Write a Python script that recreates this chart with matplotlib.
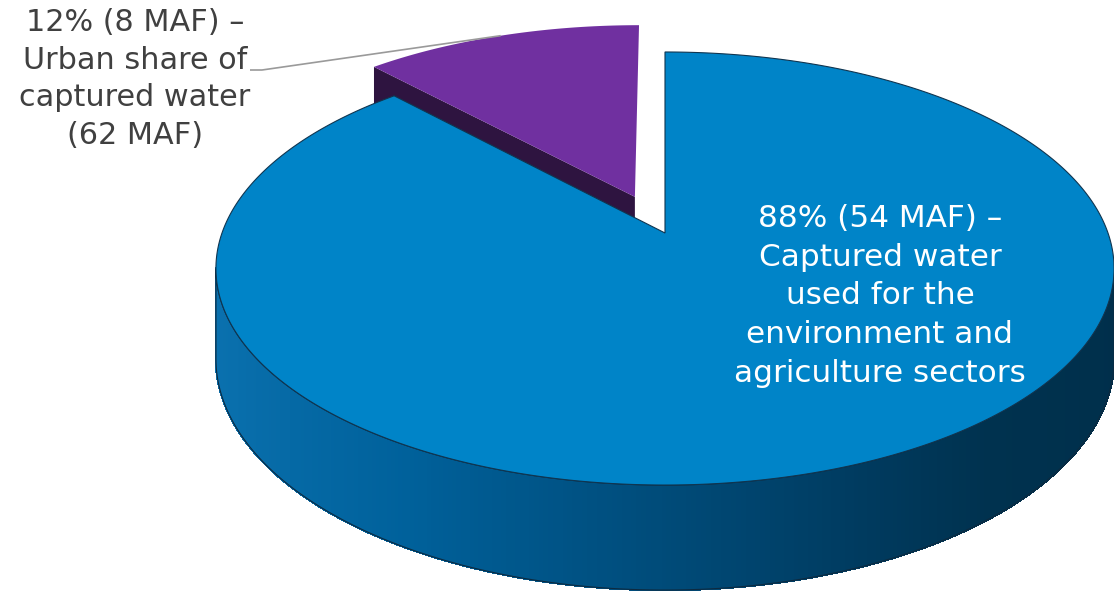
import numpy as np
import matplotlib
matplotlib.use("Agg")
import matplotlib.pyplot as plt
from matplotlib.patches import Polygon
from matplotlib.collections import PolyCollection
from matplotlib.colors import LinearSegmentedColormap

# data
shares = [12, 88]            # percent
maf = [8, 54]                # million acre-feet
total_maf = 62
names = ["Urban share of\ncaptured water", "Captured water\nused for the\nenvironment and\nagriculture sectors"]
top_colors = ["#7030a0", "#0084c8"]
face_colors = ["#2e1440", "#00304d"]

# pie geometry in pixels (perspective-ish projection of a flat cylinder)
cx, cy = 665, 233
A, B, k, H = 443, 210.7, 0.164, 87.8
explode = [0.19, 0.0]


def proj(u, v, down=0.0):
    s = 1.0 / (1.0 + k * v)
    return cx + A * u * s, cy - B * v * s + H * down * s


fig = plt.figure(figsize=(11.14, 5.91), dpi=100)
ax = fig.add_axes([0, 0, 1, 1])
ax.set_xlim(0, 1114)
ax.set_ylim(591, 0)
ax.axis("off")

# slice angles: start at 12 o'clock, go counter-clockwise
start = np.deg2rad(90)
angles = []
a0 = start
for s in shares:
    a1 = a0 + 2 * np.pi * s / 100.0
    angles.append((a0, a1))
    a0 = a1

# ---- purple (exploded) slice
p0, p1 = angles[0]
mid = (p0 + p1) / 2
du, dv = explode[0] * np.cos(mid), explode[0] * np.sin(mid)
# radial face at the trailing edge
r = np.linspace(0, 1, 30)
fu, fv = du + r * np.cos(p1), dv + r * np.sin(p1)
top_edge = [proj(u, v) for u, v in zip(fu, fv)]
bot_edge = [proj(u, v, 1) for u, v in zip(fu, fv)]
ax.add_patch(Polygon(top_edge + bot_edge[::-1], closed=True,
                     facecolor=face_colors[0], edgecolor="none"))
th = np.linspace(p0, p1, 80)
pts = [proj(du, dv)] + [proj(du + np.cos(t), dv + np.sin(t)) for t in th]
ax.add_patch(Polygon(pts, closed=True, facecolor=top_colors[0], edgecolor="none"))

# ---- blue slice side wall
cmap = LinearSegmentedColormap.from_list(
    "side", [(0.0, "#0b72b0"), (0.25, "#00619b"), (0.5, "#004b79"),
             (0.7, "#003a5e"), (0.82, "#00324f"), (1.0, "#002f4b")])
t_lo = np.pi + np.arcsin(k)
t_hi = 2 * np.pi - np.arcsin(k)
ts = np.linspace(t_lo, t_hi, 300)
quads, cols = [], []
for ta, tb in zip(ts[:-1], ts[1:]):
    ua, va, ub, vb = np.cos(ta), np.sin(ta), np.cos(tb), np.sin(tb)
    quads.append([proj(ua, va), proj(ub, vb), proj(ub, vb, 1), proj(ua, va, 1)])
    cols.append(cmap((np.cos((ta + tb) / 2) + 1) / 2))
ax.add_collection(PolyCollection(quads, facecolors=cols, edgecolors=cols,
                                 linewidths=1.0, antialiaseds=False))
outline = [proj(np.cos(t), np.sin(t)) for t in ts] + [proj(np.cos(t), np.sin(t), 1) for t in ts[::-1]]
ax.add_patch(Polygon(outline, closed=True, facecolor="none", edgecolor="#0d2a40", linewidth=0.8))

# ---- blue slice top
b0, b1 = angles[1]
th = np.linspace(b0, b1, 400)
pts = [proj(0, 0)] + [proj(np.cos(t), np.sin(t)) for t in th]
ax.add_patch(Polygon(pts, closed=True, facecolor=top_colors[1],
                     edgecolor="#103550", linewidth=0.8))

# ---- labels
font = ["DejaVu Sans"]
lab0 = f"{shares[0]}% ({maf[0]} MAF) \u2013\n{names[0]}\n({total_maf} MAF)"
ax.text(135, 79, lab0, ha="center", va="center", fontsize=21.8, color="#404040",
        family=font, linespacing=1.37)
lab1 = f"{shares[1]}% ({maf[1]} MAF) \u2013\n{names[1]}"
ax.text(880, 296, lab1, ha="center", va="center", fontsize=22.4, color="white",
        family=font, linespacing=1.43)

# leader line to the middle of the purple arc
ex, ey = proj(du + np.cos(mid), dv + np.sin(mid))
ax.plot([250, 262, ex], [70, 70, ey], color="#9a9a9a", linewidth=1.2,
        solid_capstyle="butt")

fig.savefig("out.png", dpi=100)
